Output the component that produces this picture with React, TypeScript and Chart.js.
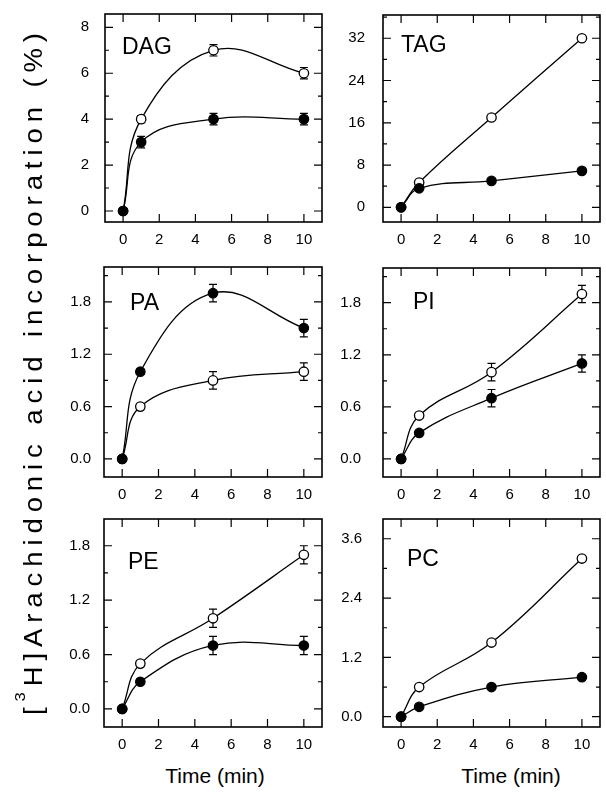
import React, { useEffect, useRef } from "react";
import { Chart, registerables } from "chart.js";

Chart.register(...registerables);

const FONT = '"Liberation Sans", Arial, Helvetica, sans-serif';

// ---------- data ----------
const timeMin = [0, 1, 5, 10];
const xTickLabels = [0, 2, 4, 6, 8, 10];

const dagOpen = [0, 4.0, 7.0, 6.0];
const dagOpenErr = [0, 0.15, 0.25, 0.25];
const dagFilled = [0, 3.0, 4.0, 4.0];
const dagFilledErr = [0, 0.25, 0.25, 0.25];
const dagTicks = [0, 2, 4, 6, 8];

const tagOpen = [0, 4.7, 17.0, 32.0];
const tagOpenErr = [0, 0, 0, 0];
const tagFilled = [0, 3.6, 5.0, 6.9];
const tagFilledErr = [0, 0, 0, 0];
const tagTicks = [0, 8, 16, 24, 32];

const paOpen = [0, 0.6, 0.9, 1.0];
const paOpenErr = [0, 0.03, 0.1, 0.1];
const paFilled = [0, 1.0, 1.9, 1.5];
const paFilledErr = [0, 0.03, 0.1, 0.1];
const paTicks = [0, 0.6, 1.2, 1.8];

const piOpen = [0, 0.5, 1.0, 1.9];
const piOpenErr = [0, 0.03, 0.1, 0.1];
const piFilled = [0, 0.3, 0.7, 1.1];
const piFilledErr = [0, 0.03, 0.1, 0.1];
const piTicks = [0, 0.6, 1.2, 1.8];

const peOpen = [0, 0.5, 1.0, 1.7];
const peOpenErr = [0, 0.03, 0.1, 0.1];
const peFilled = [0, 0.3, 0.7, 0.7];
const peFilledErr = [0, 0.03, 0.1, 0.1];
const peTicks = [0, 0.6, 1.2, 1.8];

const pcOpen = [0, 0.6, 1.5, 3.2];
const pcOpenErr = [0, 0, 0.05, 0.05];
const pcFilled = [0, 0.2, 0.6, 0.8];
const pcFilledErr = [0, 0, 0.03, 0.03];
const pcTicks = [0, 1.2, 2.4, 3.6];

const yTitleBefore = "[";
const yTitleSup = "3";
const yTitleAfter = "H]Arachidonic acid incorporation (%)";
const xAxisTitle = "Time (min)";

// ---------- layout ----------
const AX_W = 50;
const AX_H = 24;
const PAD_T = 6;
const PAD_R = 2;

type Panel = {
  name: string;
  open: number[];
  openErr: number[];
  filled: number[];
  filledErr: number[];
  ticks: number[];
  decimals: number;
  yMin: number;
  yMax: number;
  box: [number, number, number, number];
  labelPad: number;
  labelDx: number;
  labelDy: number;
};

const panels: Panel[] = [
  { name: "DAG", open: dagOpen, openErr: dagOpenErr, filled: dagFilled, filledErr: dagFilledErr, ticks: dagTicks, decimals: 0, yMin: -0.48, yMax: 8.58, box: [105, 14, 326, 222], labelPad: 8, labelDx: 17, labelDy: 34 },
  { name: "TAG", open: tagOpen, openErr: tagOpenErr, filled: tagFilled, filledErr: tagFilledErr, ticks: tagTicks, decimals: 0, yMin: -2.78, yMax: 36.4, box: [383, 15, 604, 222], labelPad: 10, labelDx: 18, labelDy: 31 },
  { name: "PA", open: paOpen, openErr: paOpenErr, filled: paFilled, filledErr: paFilledErr, ticks: paTicks, decimals: 1, yMin: -0.207, yMax: 2.2, box: [104, 267, 326, 477], labelPad: 5, labelDx: 26, labelDy: 37 },
  { name: "PI", open: piOpen, openErr: piOpenErr, filled: piFilled, filledErr: piFilledErr, ticks: piTicks, decimals: 1, yMin: -0.208, yMax: 2.2, box: [383, 268, 604, 477], labelPad: 14, labelDx: 30, labelDy: 35 },
  { name: "PE", open: peOpen, openErr: peOpenErr, filled: peFilled, filledErr: peFilledErr, ticks: peTicks, decimals: 1, yMin: -0.199, yMax: 2.095, box: [104, 519, 326, 727], labelPad: 6, labelDx: 24, labelDy: 44 },
  { name: "PC", open: pcOpen, openErr: pcOpenErr, filled: pcFilled, filledErr: pcFilledErr, ticks: pcTicks, decimals: 1, yMin: -0.208, yMax: 4.0, box: [383, 519, 604, 727], labelPad: 13, labelDx: 24, labelDy: 41 },
];

function PanelChart({ p }: { p: Panel }) {
  const ref = useRef<HTMLCanvasElement | null>(null);
  const [l, t, r, b] = p.box;
  const w = r - l + AX_W + PAD_R;
  const h = b - t + PAD_T + AX_H;

  useEffect(() => {
    if (!ref.current) return;
    const step = p.ticks[1] - p.ticks[0];
    const minor: number[] = [];
    for (let v = p.ticks[0] - step / 2; v <= p.yMax; v += step / 2) {
      if (v >= p.yMin && !p.ticks.some((m) => Math.abs(m - v) < 1e-9)) minor.push(v);
    }
    const plugin = {
      id: "frame" + p.name,
      beforeDatasetsDraw(chart: any) {
        const { ctx, chartArea: a, scales } = chart;
        ctx.save();
        ctx.strokeStyle = "#000";
        ctx.lineWidth = 1.6;
        ctx.strokeRect(a.left, a.top, a.right - a.left, a.bottom - a.top);
        ctx.lineWidth = 1.2;
        ctx.beginPath();
        xTickLabels.forEach((v) => {
          const px = scales.x.getPixelForValue(v);
          ctx.moveTo(px, a.bottom);
          ctx.lineTo(px, a.bottom - 8);
          ctx.moveTo(px, a.top);
          ctx.lineTo(px, a.top + 8);
        });
        p.ticks.forEach((v) => {
          const py = scales.y.getPixelForValue(v);
          ctx.moveTo(a.left, py);
          ctx.lineTo(a.left + 8, py);
          ctx.moveTo(a.right, py);
          ctx.lineTo(a.right - 8, py);
        });
        minor.forEach((v) => {
          const py = scales.y.getPixelForValue(v);
          ctx.moveTo(a.left, py);
          ctx.lineTo(a.left + 4, py);
          ctx.moveTo(a.right, py);
          ctx.lineTo(a.right - 4, py);
        });
        ctx.stroke();
        // error bars
        ctx.lineWidth = 1.2;
        ctx.beginPath();
        chart.data.datasets.forEach((ds: any, i: number) => {
          const meta = chart.getDatasetMeta(i);
          (ds.errors as number[]).forEach((e, j) => {
            if (!e) return;
            const pt = meta.data[j];
            const v = ds.data[j].y;
            const y1 = scales.y.getPixelForValue(v + e);
            const y2 = scales.y.getPixelForValue(v - e);
            ctx.moveTo(pt.x, y1);
            ctx.lineTo(pt.x, y2);
            ctx.moveTo(pt.x - 4, y1);
            ctx.lineTo(pt.x + 4, y1);
            ctx.moveTo(pt.x - 4, y2);
            ctx.lineTo(pt.x + 4, y2);
          });
        });
        ctx.stroke();
        ctx.fillStyle = "#000";
        ctx.font = `23px ${FONT}`;
        ctx.textBaseline = "middle";
        ctx.textAlign = "left";
        ctx.fillText(p.name, a.left + p.labelDx, a.top + p.labelDy);
        ctx.restore();
      },
    };

    const common = {
      borderColor: "#000",
      borderWidth: 1.3,
      pointRadius: 4.7,
      pointBorderWidth: 1.3,
      pointBorderColor: "#000",
      tension: 0.4,
      fill: false,
    };

    const chart = new Chart(ref.current, {
      type: "line",
      data: {
        datasets: [
          {
            ...common,
            data: timeMin.map((x, i) => ({ x, y: p.filled[i] })),
            errors: p.filledErr,
            backgroundColor: "#000",
            pointBackgroundColor: "#000",
          } as any,
          {
            ...common,
            data: timeMin.map((x, i) => ({ x, y: p.open[i] })),
            errors: p.openErr,
            backgroundColor: "#fff",
            pointBackgroundColor: "#fff",
          } as any,
        ],
      },
      options: {
        animation: false,
        responsive: false,
        devicePixelRatio: 1,
        layout: { padding: { top: PAD_T, right: PAD_R, left: 0, bottom: 0 } },
        plugins: { legend: { display: false }, tooltip: { enabled: false } },
        scales: {
          x: {
            type: "linear",
            min: -1,
            max: 11,
            grid: { display: false },
            border: { display: false },
            afterBuildTicks: (s: any) => {
              s.ticks = xTickLabels.map((v) => ({ value: v }));
            },
            afterFit: (s: any) => {
              s.height = AX_H;
              s.paddingLeft = 0;
              s.paddingRight = 0;
            },
            ticks: {
              font: { size: 15, family: FONT },
              color: "#000",
              padding: 1,
              maxRotation: 0,
              autoSkip: false,
              callback: (v: any) => String(v),
            },
          },
          y: {
            type: "linear",
            min: p.yMin,
            max: p.yMax,
            grid: { display: false },
            border: { display: false },
            afterBuildTicks: (s: any) => {
              s.ticks = p.ticks.map((v) => ({ value: v }));
            },
            afterFit: (s: any) => {
              s.width = AX_W;
              s.paddingTop = 0;
              s.paddingBottom = 0;
            },
            ticks: {
              font: { size: 15, family: FONT },
              color: "#000",
              padding: p.labelPad,
              autoSkip: false,
              callback: (v: any) => Number(v).toFixed(p.decimals),
            },
          },
        },
      } as any,
      plugins: [plugin],
    });
    return () => chart.destroy();
  }, [p]);

  return (
    <canvas
      ref={ref}
      width={w}
      height={h}
      style={{ position: "absolute", left: l - AX_W, top: t - PAD_T, width: w, height: h }}
    />
  );
}

// Rotated y-axis title drawn as text on its own canvas
function YTitle() {
  const ref = useRef<HTMLCanvasElement | null>(null);
  useEffect(() => {
    const c = ref.current;
    if (!c) return;
    const ctx = c.getContext("2d")!;
    ctx.clearRect(0, 0, c.width, c.height);
    const mainFont = `25px ${FONT}`;
    const supFont = `15px ${FONT}`;
    const k = 1.1;
    const startY = 715; // bottom end of title
    const endY = 33; // top end of title
    const baseX = 42;
    const chars: { ch: string; sup: boolean }[] = [];
    for (const ch of yTitleBefore) chars.push({ ch, sup: false });
    for (const ch of yTitleSup) chars.push({ ch, sup: true });
    for (const ch of yTitleAfter) chars.push({ ch, sup: false });
    let natural = 0;
    const widths = chars.map((c2) => {
      ctx.font = c2.sup ? supFont : mainFont;
      const wv = ctx.measureText(c2.ch).width;
      natural += wv;
      return wv;
    });
    const total = (startY - endY) / k;
    const s = (total - natural) / (chars.length - 1);
    ctx.save();
    ctx.translate(baseX, startY);
    ctx.rotate(-Math.PI / 2);
    ctx.scale(k, 1);
    ctx.fillStyle = "#000";
    ctx.textBaseline = "alphabetic";
    let x = 0;
    chars.forEach((c2, i) => {
      ctx.font = c2.sup ? supFont : mainFont;
      ctx.fillText(c2.ch, x, c2.sup ? -17 : 0);
      x += widths[i] + s;
    });
    ctx.restore();
  }, []);
  return <canvas ref={ref} width={60} height={796} style={{ position: "absolute", left: 0, top: 0, width: 60, height: 796 }} />;
}

export default function App() {
  return (
    <div style={{ position: "absolute", left: 0, top: 0, width: 606, height: 796, background: "#fff", overflow: "hidden" }}>
      {panels.map((p) => (
        <PanelChart key={p.name} p={p} />
      ))}
      <YTitle />
      <div style={{ position: "absolute", left: 215, top: 776, transform: "translate(-50%, -50%)", fontFamily: FONT, fontSize: 21, whiteSpace: "nowrap", color: "#000" }}>
        {xAxisTitle}
      </div>
      <div style={{ position: "absolute", left: 511, top: 776, transform: "translate(-50%, -50%)", fontFamily: FONT, fontSize: 21, whiteSpace: "nowrap", color: "#000" }}>
        {xAxisTitle}
      </div>
    </div>
  );
}
